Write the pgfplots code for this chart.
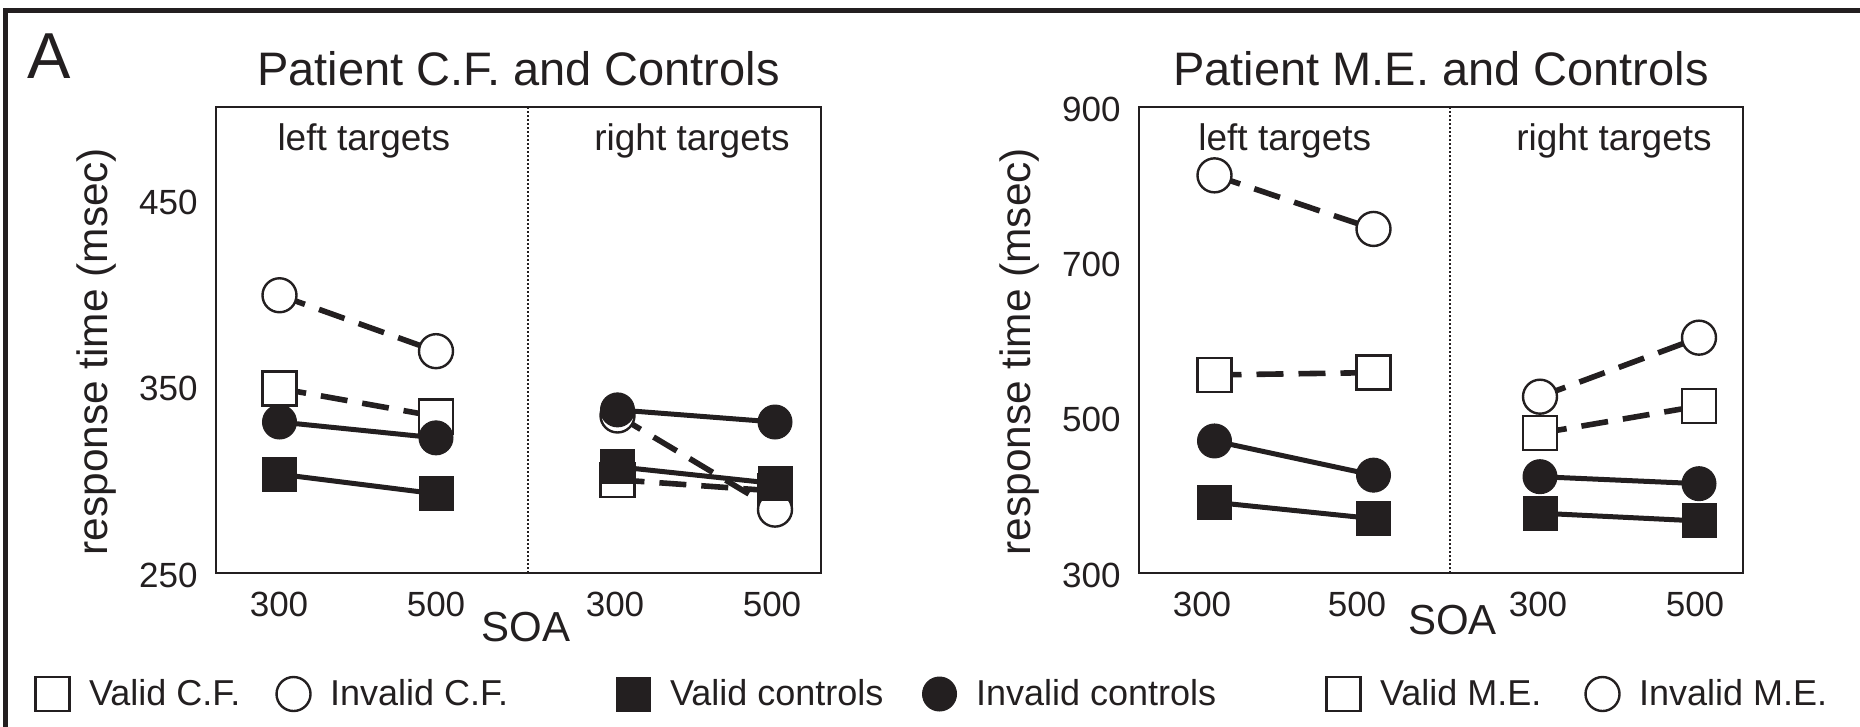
\documentclass[border=0pt]{standalone}
\usepackage{fontspec}
\setmainfont{Liberation Sans}
\usepackage{pgfplots}
\pgfplotsset{compat=1.18}
\definecolor{ink}{HTML}{231F20}

\tikzset{txt/.style={anchor=base west, inner sep=0pt, text=ink, font=\fontsize{18.5}{21}\selectfont}}
\pgfplotsset{
  panel/.style={
    scale only axis, height=233pt,
    axis line style={ink, line width=1.2pt},
    major tick length=0pt, tick style={draw=none},
    clip=false, unbounded coords=jump,
    /pgf/number format/assume math mode=true,
    ticklabel style={font=\fontsize{17.5}{20}\selectfont, text=ink},
    xticklabel style={anchor=base, yshift=-21.85pt, inner sep=0pt},
    yticklabel style={anchor=east, inner sep=0pt, xshift=-9pt, yshift=-1pt},
    every axis y label/.style={at={(axis description cs:-0.197,0.475)}, rotate=90, anchor=center,
      font=\fontsize{21.2}{24}\selectfont, text=ink},
    every axis title/.style={at={(axis description cs:0.5,1.0451)}, anchor=base,
      font=\fontsize{23.5}{26}\selectfont, text=ink},
    every axis x label/.style={anchor=base, font=\fontsize{21}{24}\selectfont, text=ink},
    xticklabels={300,500,300,500},
    ylabel={response time (msec)}, xlabel={SOA},
    legend image code/.code={\draw[#1] plot coordinates {(8.5pt,0pt)};},
  },
  openmk/.style={only marks, mark size=8.5pt, mark options={solid, fill=white, draw=ink, line width=1.2pt}},
  fullmk/.style={only marks, mark size=8.5pt, mark options={solid, fill=ink, draw=ink, line width=0.5pt}},
  solidln/.style={no marks, ink, line width=2.5pt, forget plot},
  dashln/.style={no marks, ink, line width=2.8pt, dash pattern=on 13.5pt off 7.5pt, forget plot},
}

\begin{document}
\begin{tikzpicture}
\path[use as bounding box] (0,0) rectangle (930pt,363.5pt);
\draw[ink, line width=2.4pt] (2.9pt,0pt) -- (2.9pt,358.2pt) -- (930pt,358.2pt);
\node[anchor=base west, inner sep=0pt, text=ink, font=\fontsize{32.5}{36}\selectfont] at (13.3pt,324.4pt) {A};

% Patient C.F.
\begin{axis}[panel, at={(108pt,77pt)}, anchor=south west, width=302.5pt,
  xmin=0, xmax=605, ymin=250, ymax=500, ytick={250,350,450},
  xtick={63,220,399,556},
  title={Patient C.F. and Controls},
  xlabel style={at={(axis description cs:0.5121,-0.1474)}},
  legend columns=6,
  legend style={at={(axis description cs:-0.2983,-0.2597)}, anchor=west,
    draw=none, fill=none, inner sep=0pt, outer sep=0pt,
    font=\fontsize{18}{20}\selectfont, text=ink,
    nodes={inner sep=0pt}, cells={anchor=west},
    /tikz/every odd column/.style={column sep=9.75pt}},
]
\addplot[openmk, mark=square*, forget plot] coordinates {(63.5,349) (220,334) (401.5,300) (559,294)};
\addplot[openmk, mark=*, forget plot] coordinates {(63.5,399) (220,369) (401.5,334.5) (559,284)};
\addplot[fullmk, mark=square*, forget plot] coordinates {(63.5,303) (220,292.5) (401.5,307) (559,298)};
\addplot[fullmk, mark=*, forget plot] coordinates {(63.5,331) (220,322.5) (401.5,337.5) (559,331)};
\addplot[solidln] coordinates {(63.5,303) (220,292.5) (300,nan) (401.5,307) (559,298)};
\addplot[solidln] coordinates {(63.5,331) (220,322.5) (300,nan) (401.5,337.5) (559,331)};
\addplot[dashln] coordinates {(63.5,349) (220,334) (300,nan) (401.5,300) (559,294)};
\addplot[dashln] coordinates {(63.5,399) (220,369) (300,nan) (401.5,334.5) (559,284)};
\draw[ink, line width=1pt, dash pattern=on 1pt off 1pt] (axis cs:312,250) -- (axis cs:312,500);
\node[txt] at (rel axis cs:0.1010,0.9077) {left targets};
\node[txt] at (rel axis cs:0.6247,0.9077) {right targets};
\addlegendimage{openmk, mark=square*}
\addlegendentry{\makebox[93.75pt][l]{Valid C.F.}}
\addlegendimage{openmk, mark=*}
\addlegendentry{\makebox[143.25pt][l]{Invalid C.F.}}
\addlegendimage{fullmk, mark=square*}
\addlegendentry{\makebox[126.25pt][l]{Valid controls}}
\addlegendimage{fullmk, mark=*}
\addlegendentry{\makebox[175.25pt][l]{Invalid controls}}
\addlegendimage{openmk, mark=square*}
\addlegendentry{\makebox[102.75pt][l]{Valid M.E.}}
\addlegendimage{openmk, mark=*}
\addlegendentry{Invalid M.E.}
\end{axis}

% Patient M.E.
\begin{axis}[panel, at={(569.5pt,77pt)}, anchor=south west, width=302pt,
  xmin=0, xmax=604, ymin=300, ymax=900, ytick={300,500,700,900},
  xtick={63,218,399,556},
  title={Patient M.E. and Controls},
  xlabel style={at={(axis description cs:0.519,-0.1318)}},
]
\addplot[openmk, mark=square*] coordinates {(75.5,555) (234.5,558) (401,480) (560,515)};
\addplot[openmk, mark=*] coordinates {(75.5,812) (234.5,743) (401,527) (560,603)};
\addplot[fullmk, mark=square*] coordinates {(75.5,391) (234.5,370) (401,377) (560,367)};
\addplot[fullmk, mark=*] coordinates {(75.5,470) (234.5,426) (401,424) (560,415)};
\addplot[solidln] coordinates {(75.5,391) (234.5,370) (300,nan) (401,377) (560,367)};
\addplot[solidln] coordinates {(75.5,470) (234.5,426) (300,nan) (401,424) (560,415)};
\addplot[dashln] coordinates {(75.5,555) (234.5,558) (300,nan) (401,480) (560,515)};
\addplot[dashln] coordinates {(75.5,812) (234.5,743) (300,nan) (401,527) (560,603)};
\draw[ink, line width=1pt, dash pattern=on 1pt off 1pt] (axis cs:311,300) -- (axis cs:311,900);
\node[txt] at (rel axis cs:0.0977,0.907) {left targets};
\node[txt] at (rel axis cs:0.624,0.907) {right targets};
\end{axis}
\end{tikzpicture}
\end{document}
